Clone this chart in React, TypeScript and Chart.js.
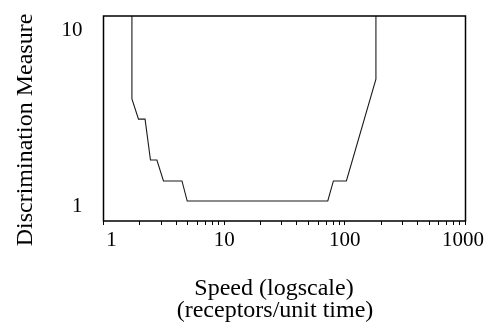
import React, { useEffect, useRef } from "react";
import { Chart, registerables } from "chart.js";

Chart.register(...registerables);

// Data (speed in receptors/unit time, log scale)
const speed = [1.72, 1.72, 1.95, 2.21, 2.45, 2.77, 3.14, 4.47, 4.94, 72.2, 80.4, 103, 181, 181];
const measure = [100, 3.8, 2.92, 2.92, 1.71, 1.71, 1.3, 1.3, 1.0, 1.0, 1.3, 1.3, 4.93, 100];

const xTickValues = [
  1, 2, 3, 4, 5, 6, 7, 8, 9,
  10, 20, 30, 40, 50, 60, 70, 80, 90,
  100, 200, 300, 400, 500, 600, 700, 800, 900,
  1000,
];
const xLabelValues = [1, 10, 100, 1000];
const yTickValues = [1, 10];

const xTitleLines = ["Speed (logscale)", "(receptors/unit time)"];
const yTitle = "Discrimination Measure";

const SERIF = '"Liberation Serif", "Times New Roman", serif';

const framePlugin = {
  id: "frameAndTitles",
  afterDatasetsDraw(chart: any) {
    const { ctx, chartArea: a } = chart;
    ctx.save();
    ctx.strokeStyle = "#000";
    ctx.lineWidth = 1.5;
    ctx.strokeRect(a.left, a.top, a.right - a.left, a.bottom - a.top);
    ctx.restore();
  },
  afterDraw(chart: any) {
    const { ctx } = chart;
    ctx.save();
    ctx.fillStyle = "#000";
    ctx.font = `24px ${SERIF}`;
    ctx.textAlign = "center";
    ctx.textBaseline = "alphabetic";
    ctx.fillText(xTitleLines[0], 274, 295);
    ctx.fillText(xTitleLines[1], 275, 317);
    ctx.translate(32, 130);
    ctx.rotate(-Math.PI / 2);
    ctx.fillText(yTitle, 0, 0);
    ctx.restore();
  },
};

export default function App() {
  const canvasRef = useRef<HTMLCanvasElement | null>(null);

  useEffect(() => {
    const canvas = canvasRef.current;
    if (!canvas) return;
    const chart = new Chart(canvas, {
      type: "line",
      data: {
        datasets: [
          {
            data: speed.map((s, i) => ({ x: s, y: measure[i] })),
            borderColor: "#1a1a1a",
            borderWidth: 1.1,
            pointRadius: 0,
            tension: 0,
            fill: false,
          },
        ],
      },
      options: {
        responsive: false,
        animation: false,
        events: [],
        layout: { padding: { left: 0, top: 16, right: 21.5, bottom: 0 } },
        plugins: {
          legend: { display: false },
          tooltip: { enabled: false },
        },
        scales: {
          x: {
            type: "logarithmic",
            min: 1,
            max: 1000,
            border: { display: false },
            grid: {
              display: true,
              drawOnChartArea: false,
              drawTicks: true,
              tickLength: 4,
              color: "#000",
              lineWidth: 1,
            },
            ticks: {
              autoSkip: false,
              maxRotation: 0,
              minRotation: 0,
              padding: 3,
              color: "#000",
              font: { family: SERIF, size: 21 },
              callback: (value: any) => {
                const v = Number(value);
                if (!xLabelValues.includes(v)) return "";
                if (v === 1) return "   1";
                if (v === 1000) return "1000 ";
                return String(v);
              },
            },
            afterBuildTicks: (scale: any) => {
              scale.ticks = xTickValues.map((v) => ({ value: v }));
            },
            afterFit: (scale: any) => {
              scale.height = 101;
              scale.paddingLeft = 0;
              scale.paddingRight = 0;
            },
          },
          y: {
            type: "logarithmic",
            min: 0.77,
            max: 11.25,
            border: { display: false },
            grid: { display: false },
            ticks: {
              padding: 13,
              labelOffset: 5,
              color: "#000",
              font: { family: SERIF, size: 21 },
              callback: (value: any) => String(Number(value)),
            },
            afterBuildTicks: (scale: any) => {
              scale.ticks = yTickValues.map((v) => ({ value: v }));
            },
            afterFit: (scale: any) => {
              scale.width = 103.5;
              scale.paddingTop = 0;
              scale.paddingBottom = 0;
            },
          },
        },
      },
      plugins: [framePlugin],
    });
    return () => chart.destroy();
  }, []);

  return (
    <div style={{ position: "fixed", left: 0, top: 0, width: 487, height: 322, background: "#fff" }}>
      <canvas ref={canvasRef} width={487} height={322} style={{ display: "block" }} />
    </div>
  );
}
